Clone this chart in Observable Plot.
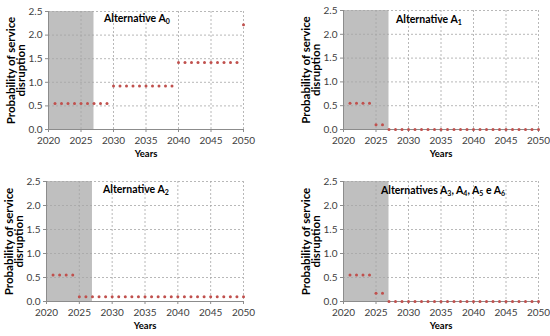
<!DOCTYPE html>
<html>
<head>
<meta charset="utf-8">
<script src="https://cdn.jsdelivr.net/npm/d3@7"></script>
<script src="https://cdn.jsdelivr.net/npm/@observablehq/plot@0.6"></script>
<style>
  html, body { margin: 0; padding: 0; background: #fff; }
  #root { position: relative; width: 550px; height: 336px; overflow: hidden; font-family: Lato, "Open Sans", sans-serif; }
  .panel { position: absolute; }
  .title { position: absolute; font-weight: bold; font-size: 10.5px; color: #000; line-height: 11px; white-space: nowrap; }
  .title sub { font-size: 7px; vertical-align: -2px; }
</style>
</head>
<body>
<div id="root"></div>
<script>
// ---- data ----
const years = [2021,2022,2023,2024,2025,2026,2027,2028,2029,2030,2031,2032,2033,2034,2035,2036,2037,2038,2039,2040,2041,2042,2043,2044,2045,2046,2047,2048,2049,2050];
const valuesA0 = [0.55,0.55,0.55,0.55,0.55,0.55,0.55,0.55,0.55,0.92,0.92,0.92,0.92,0.92,0.92,0.92,0.92,0.92,0.92,1.42,1.42,1.42,1.42,1.42,1.42,1.42,1.42,1.42,1.42,2.22];
const valuesA1 = [0.55,0.55,0.55,0.55,0.1,0.1,0,0,0,0,0,0,0,0,0,0,0,0,0,0,0,0,0,0,0,0,0,0,0,0];
const valuesA2 = [0.55,0.55,0.55,0.55,0.1,0.1,0.1,0.1,0.1,0.1,0.1,0.1,0.1,0.1,0.1,0.1,0.1,0.1,0.1,0.1,0.1,0.1,0.1,0.1,0.1,0.1,0.1,0.1,0.1,0.1];
const valuesA3 = [0.55,0.55,0.55,0.55,0.17,0.17,0,0,0,0,0,0,0,0,0,0,0,0,0,0,0,0,0,0,0,0,0,0,0,0];
const xTicks = [2020,2025,2030,2035,2040,2045,2050];
const yTicks = [0,0.5,1.0,1.5,2.0,2.5];
const shadedPeriod = [2020, 2027];
const titles = ["Alternative A<sub>0</sub>", "Alternative A<sub>1</sub>", "Alternative A<sub>2</sub>", "Alternatives A<sub>3</sub>, A<sub>4</sub>, A<sub>5</sub> e A<sub>6</sub>"];
const yLabel = "Probability of service\ndisruption";
const xLabel = "Years";

// ---- layout ----
const panels = [
  {vals: valuesA0, left: 0,   top: 0,   ml: 48, mr: 32, mt: 11, mb: 39, tx: 104, ty: 13},
  {vals: valuesA1, left: 275, top: 0,   ml: 68, mr: 12, mt: 10, mb: 39, tx: 121, ty: 14},
  {vals: valuesA2, left: 0,   top: 168, ml: 46, mr: 32, mt: 13, mb: 35, tx: 103, ty: 16},
  {vals: valuesA3, left: 275, top: 168, ml: 68, mr: 12, mt: 13, mb: 35, tx: 106, ty: 17}
];

const root = document.getElementById("root");
const gridColor = "#a6a6a6";
const axisColor = "#8c8c8c";

panels.forEach((p, i) => {
  const data = years.map((y, k) => ({year: y, value: p.vals[k]}));
  const chart = Plot.plot({
    width: 275,
    height: 168,
    marginLeft: p.ml, marginRight: p.mr, marginTop: p.mt, marginBottom: p.mb,
    style: {fontFamily: "Lato, 'Open Sans', sans-serif", fontSize: "10px", color: "#404040", background: "white", overflow: "visible"},
    x: {domain: [2020, 2050], ticks: xTicks, tickFormat: d => String(d), tickSize: 3, tickPadding: 4, label: null},
    y: {domain: [0, 2.5], ticks: yTicks, tickFormat: d => d.toFixed(1), tickSize: 3, tickPadding: 3, label: null},
    marks: [
      Plot.rect([shadedPeriod], {x1: d => d[0], x2: d => d[1], y1: 0, y2: 2.5, fill: "#bfbfbf"}),
      Plot.gridX(xTicks.filter(t => t > 2020), {stroke: gridColor, strokeOpacity: 1, strokeDasharray: "2,2", strokeWidth: 0.8}),
      Plot.gridY(yTicks.filter(t => t > 0), {stroke: gridColor, strokeOpacity: 1, strokeDasharray: "2,2", strokeWidth: 0.8}),
      Plot.ruleX([2020], {stroke: axisColor}),
      Plot.ruleY([0], {stroke: axisColor}),
      Plot.axisX({ticks: xTicks, tickFormat: d => String(d), tickSize: 3, tickPadding: 4, stroke: axisColor, fill: "#404040", label: null}),
      Plot.axisY({ticks: yTicks, tickFormat: d => d.toFixed(1), tickSize: 3, tickPadding: 3, stroke: axisColor, fill: "#404040", label: null}),
      Plot.dot(data, {x: "year", y: "value", r: 1.5, fill: "#c0504d", stroke: null}),
      Plot.text([yLabel], {frameAnchor: "left", dx: -32, rotate: -90, textAnchor: "middle", text: d => d, fontWeight: "bold", fontSize: 11.5, fill: "#000", lineHeight: 0.95}),
      Plot.text([xLabel], {frameAnchor: "bottom", dy: 27, text: d => d, fontWeight: "bold", fontSize: 9.5, fill: "#000"})
    ]
  });
  const div = document.createElement("div");
  div.className = "panel";
  div.style.left = p.left + "px";
  div.style.top = p.top + "px";
  div.appendChild(chart);
  root.appendChild(div);

  const t = document.createElement("div");
  t.className = "title";
  t.style.left = (p.left + p.tx) + "px";
  t.style.top = (p.top + p.ty) + "px";
  t.innerHTML = titles[i];
  root.appendChild(t);
});
</script>
</body>
</html>
